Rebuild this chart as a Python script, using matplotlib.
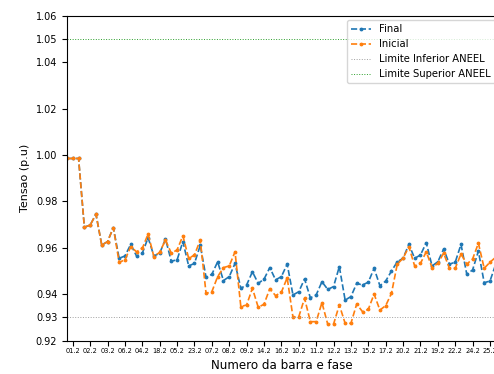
import matplotlib
matplotlib.use("Agg")
import matplotlib.pyplot as plt
import numpy as np

# ------------------------------------------------ dados
barras = ["01.2", "02.2", "03.2", "06.2", "04.2", "18.2", "05.2", "23.2", "07.2",
          "08.2", "09.2", "14.2", "16.2", "10.2", "11.2", "12.2", "13.2", "15.2",
          "17.2", "20.2", "21.2", "19.2", "22.2", "24.2", "25.2"]

tensao_final = [
    0.9985, 0.9985, 0.9985, 0.9689, 0.9698, 0.9745, 0.9612, 0.9627, 0.9687,
    0.9555, 0.9565, 0.9615, 0.9565, 0.9577, 0.9644, 0.9565, 0.9577, 0.9638,
    0.9543, 0.9548, 0.9627, 0.9522, 0.9533, 0.9611, 0.9473, 0.9486, 0.9540,
    0.9459, 0.9476, 0.9533, 0.9426, 0.9440, 0.9497, 0.9447, 0.9465, 0.9515,
    0.9462, 0.9476, 0.9530, 0.9397, 0.9411, 0.9466, 0.9385, 0.9397, 0.9454,
    0.9421, 0.9433, 0.9519, 0.9375, 0.9390, 0.9447, 0.9440, 0.9452, 0.9512,
    0.9437, 0.9457, 0.9500, 0.9540, 0.9555, 0.9615, 0.9555, 0.9569, 0.9622,
    0.9522, 0.9540, 0.9595, 0.9530, 0.9538, 0.9615, 0.9486, 0.9505, 0.9586,
    0.9450, 0.9457, 0.9530,
]

tensao_inicial = [
    0.9985, 0.9985, 0.9985, 0.9689, 0.9698, 0.9745, 0.9612, 0.9627, 0.9687,
    0.9538, 0.9548, 0.9605, 0.9583, 0.9598, 0.9660, 0.9562, 0.9581, 0.9634,
    0.9577, 0.9591, 0.9652, 0.9555, 0.9569, 0.9634, 0.9404, 0.9411, 0.9476,
    0.9515, 0.9522, 0.9583, 0.9347, 0.9354, 0.9426, 0.9344, 0.9357, 0.9424,
    0.9394, 0.9409, 0.9471, 0.9301, 0.9303, 0.9383, 0.9282, 0.9282, 0.9364,
    0.9271, 0.9271, 0.9354, 0.9275, 0.9275, 0.9358, 0.9325, 0.9335, 0.9401,
    0.9332, 0.9351, 0.9404, 0.9530, 0.9555, 0.9605, 0.9522, 0.9533, 0.9583,
    0.9515, 0.9533, 0.9577, 0.9512, 0.9512, 0.9574, 0.9530, 0.9552, 0.9620,
    0.9512, 0.9538, 0.9560,
]

LIM_INF = 0.93
LIM_SUP = 1.05
yticks = [0.92, 0.93, 0.94, 0.96, 0.98, 1.00, 1.02, 1.04, 1.05, 1.06]

# ------------------------------------------------ figura
x = np.arange(len(tensao_final))

fig = plt.figure(figsize=(4.94, 3.74), dpi=100)
# eixo passa um pouco da borda direita (figura original recortada)
ax = fig.add_axes([0.1356, 0.089, 0.868, 0.869])

ax.plot(x, tensao_final, ".--", color="#1f77b4", lw=1.2, ms=3.5, label="Final")
ax.plot(x, tensao_inicial, ".--", color="#ff7f0e", lw=1.2, ms=3.5, label="Inicial")
ax.axhline(LIM_INF, ls=":", color="#a0a0a0", lw=0.7, label="Limite Inferior ANEEL")
ax.axhline(LIM_SUP, ls=":", color="#2ca02c", lw=0.7, label="Limite Superior ANEEL")

ax.set_xlim(0, len(x) - 1)
ax.set_ylim(0.92, 1.06)
ax.set_yticks(yticks)
ax.set_yticklabels([f"{v:.2f}" for v in yticks], fontsize=7)
ax.set_xticks(x[1::3])
ax.set_xticklabels(barras, fontsize=4.8)
ax.tick_params(axis="x", length=3.5, pad=2)
ax.tick_params(axis="y", length=3.5)

ax.set_xlabel("Numero da barra e fase", fontsize=8.6, labelpad=3)
ax.set_ylabel("Tensao (p.u)", fontsize=8)

ax.legend(loc="upper left", bbox_to_anchor=(347 / 494, 1 - 20 / 374),
          bbox_transform=fig.transFigure, borderaxespad=0, fontsize=7.2)

fig.savefig("out.png", dpi=100)
